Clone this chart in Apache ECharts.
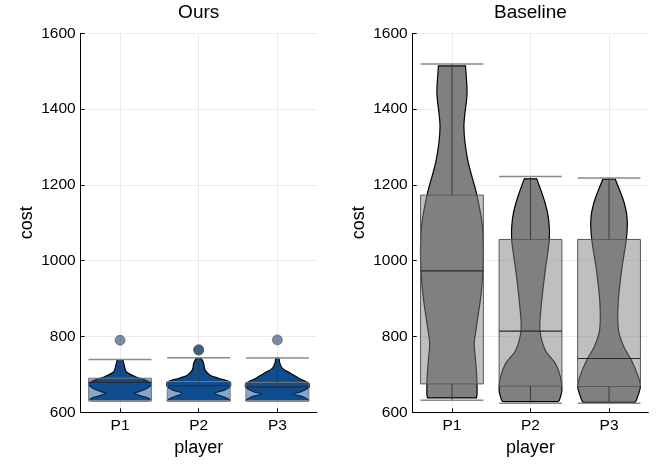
<!DOCTYPE html>
<html>
<head>
<meta charset="utf-8">
<script src="https://cdn.jsdelivr.net/npm/echarts@6/dist/echarts.min.js"></script>
<style>
html,body{margin:0;padding:0;background:#fff;}
#chart{width:664px;height:465px;}
</style>
</head>
<body>
<div id="chart"></div>
<script>
// ---- data ----
const categories = ['P1', 'P2', 'P3'];
const panelTitles = ['Ours', 'Baseline'];

// Ours box statistics
const oursLow    = [630, 630, 630];
const oursQ1     = [631, 631, 631];
const oursMedian = [679, 670, 667];
const oursQ3     = [690, 681, 679];
const oursHigh   = [739, 744, 743];
const oursOutlierCat = [0, 1, 1, 2];
const oursOutlierVal = [790, 764, 765, 791];

// Baseline box statistics
const baseLow    = [632, 624, 624];
const baseQ1     = [675, 669, 668];
const baseMedian = [973, 814, 742];
const baseQ3     = [1173, 1056, 1056];
const baseHigh   = [1519, 1222, 1218];

// Violin density profiles: [cost, relative half-width]
const oursViolinP1 = [[739,0.09],[725,0.13],[707,0.2],[694,0.49],[685,0.8],[674,1.0],[663,0.85],[654,0.59],[650,0.44],[644,0.64],[635,0.95],[630,0.9]];
const oursViolinP2 = [[742.5,0.08],[729,0.16],[712,0.2],[698,0.36],[690,0.62],[679,1.0],[668,1.0],[659,0.83],[650,0.52],[641,0.78],[632,1.0],[630,0.98]];
const oursViolinP3 = [[743,0.05],[729,0.08],[716,0.16],[703,0.42],[690,0.68],[676,1.0],[665,1.0],[654,0.74],[648,0.5],[641,0.82],[632,1.0],[630,0.98]];
const baseViolinP1 = [[1514,0.43],[1442,0.48],[1354,0.38],[1266,0.5],[1178,0.78],[1090,0.97],[1002,1.0],[914,0.93],[826,0.78],[782,0.71],[738,0.75],[694,0.79],[650,0.8],[638,0.78]];
const baseViolinP2 = [[1216,0.2],[1151,0.47],[1107,0.58],[1056,0.6],[975,0.47],[888,0.35],[817,0.3],[764,0.47],[729,0.79],[694,0.95],[659,1.0],[632,0.92],[628,0.87]];
const baseViolinP3 = [[1215,0.2],[1151,0.49],[1107,0.58],[1056,0.55],[975,0.4],[888,0.29],[817,0.3],[773,0.47],[738,0.71],[694,0.93],[668,1.0],[632,0.87],[626,0.82]];

// ---- styling ----
const FONT = 'Liberation Sans, Arial, sans-serif';
const oursColor = '#0f4d8f';
const oursBoxFill = 'rgba(15,77,143,0.5)';
const baseColor = '#808080';
const baseBoxFill = 'rgba(128,128,128,0.5)';
const HALF = 0.4; // half of box width in band units

const oursViolins = [oursViolinP1, oursViolinP2, oursViolinP3];
const baseViolins = [baseViolinP1, baseViolinP2, baseViolinP3];

function violinRenderer(profiles, color) {
  return function (params, api) {
    const idx = api.value(0);
    const prof = profiles[idx];
    const band = api.size([1, 0])[0];
    const right = [], left = [];
    prof.forEach(function (p) {
      const c = api.coord([idx, p[0]]);
      const hw = p[1] * HALF * band;
      right.push([c[0] + hw, c[1]]);
      left.push([c[0] - hw, c[1]]);
    });
    left.reverse();
    // duplicate corner points so the flat top/bottom edges stay straight
    const pts = [right[0]].concat(right, [right[right.length - 1]], [left[0]], left, [left[left.length - 1]]);
    return {
      type: 'polygon',
      shape: { points: pts, smooth: 0.3 },
      style: { fill: color, stroke: '#000', lineWidth: 1.2 }
    };
  };
}

function boxRenderer(fill, edge) {
  return function (params, api) {
    const idx = api.value(0);
    const band = api.size([1, 0])[0];
    const hw = HALF * band;
    const pLow = api.coord([idx, api.value(1)]);
    const pQ1 = api.coord([idx, api.value(2)]);
    const pMed = api.coord([idx, api.value(3)]);
    const pQ3 = api.coord([idx, api.value(4)]);
    const pHigh = api.coord([idx, api.value(5)]);
    const x = pMed[0];
    return {
      type: 'group',
      children: [
        { type: 'rect', shape: { x: x - hw, y: pQ3[1], width: 2 * hw, height: pQ1[1] - pQ3[1] },
          style: { fill: fill, stroke: edge, lineWidth: 1 } },
        { type: 'line', shape: { x1: x - hw, y1: pMed[1], x2: x + hw, y2: pMed[1] },
          style: { stroke: '#2a2a2a', lineWidth: 1.2 } },
        { type: 'line', shape: { x1: x, y1: pQ3[1], x2: x, y2: pHigh[1] },
          style: { stroke: '#3a3a3a', lineWidth: 1 } },
        { type: 'line', shape: { x1: x, y1: pQ1[1], x2: x, y2: pLow[1] },
          style: { stroke: '#3a3a3a', lineWidth: 1 } },
        { type: 'line', shape: { x1: x - hw, y1: pHigh[1], x2: x + hw, y2: pHigh[1] },
          style: { stroke: '#8a8a8a', lineWidth: 1.5 } },
        { type: 'line', shape: { x1: x - hw, y1: pLow[1], x2: x + hw, y2: pLow[1] },
          style: { stroke: '#8a8a8a', lineWidth: 1.5 } }
      ]
    };
  };
}

function boxRows(low, q1, med, q3, high) {
  return categories.map(function (c, i) { return [i, low[i], q1[i], med[i], q3[i], high[i]]; });
}

const grids = [
  { left: 80.7, top: 33.3, width: 236, height: 379 },
  { left: 412.7, top: 33.3, width: 235.6, height: 379 }
];

function xAxisCfg(gi) {
  return {
    type: 'category', gridIndex: gi, data: categories,
    name: 'player', nameLocation: 'middle', nameGap: 27,
    nameTextStyle: { fontFamily: FONT, fontSize: 18, color: '#000' },
    axisLine: { show: true, lineStyle: { color: '#000', width: 1 } },
    axisTick: { show: true, inside: true, alignWithLabel: true, length: 4, lineStyle: { color: '#000' } },
    axisLabel: { fontFamily: FONT, fontSize: 15.5, color: '#000', margin: 5 },
    splitLine: { show: true, alignWithLabel: true, lineStyle: { color: '#ebebeb', width: 1 } }
  };
}
function yAxisCfg(gi) {
  return {
    type: 'value', gridIndex: gi, min: 600, max: 1600, interval: 200,
    name: 'cost', nameLocation: 'middle', nameGap: 45,
    nameTextStyle: { fontFamily: FONT, fontSize: 18, color: '#000' },
    axisLine: { show: true, lineStyle: { color: '#000', width: 1 } },
    axisTick: { show: true, inside: true, length: 4, lineStyle: { color: '#000' } },
    axisLabel: { fontFamily: FONT, fontSize: 15.5, color: '#000', margin: 5,
      formatter: function (v) { return String(v); } },
    splitLine: { show: true, lineStyle: { color: '#ebebeb', width: 1 } }
  };
}

const chart = echarts.init(document.getElementById('chart'), null, { renderer: 'canvas' });
chart.setOption({
  animation: false,
  backgroundColor: '#fff',
  grid: grids,
  xAxis: [xAxisCfg(0), xAxisCfg(1)],
  yAxis: [yAxisCfg(0), yAxisCfg(1)],
  graphic: [
    { type: 'text', x: 198.7, y: 13, style: { text: panelTitles[0], align: 'center', verticalAlign: 'middle', font: '19px ' + FONT, fill: '#000' } },
    { type: 'text', x: 530.5, y: 13, style: { text: panelTitles[1], align: 'center', verticalAlign: 'middle', font: '19px ' + FONT, fill: '#000' } }
  ],
  series: [
    { type: 'custom', xAxisIndex: 0, yAxisIndex: 0, renderItem: violinRenderer(oursViolins, oursColor),
      data: categories.map(function (c, i) { return [i, oursMedian[i]]; }), z: 2 },
    { type: 'custom', xAxisIndex: 0, yAxisIndex: 0, renderItem: boxRenderer(oursBoxFill, '#7a7a7a'),
      data: boxRows(oursLow, oursQ1, oursMedian, oursQ3, oursHigh), z: 3 },
    { type: 'scatter', xAxisIndex: 0, yAxisIndex: 0, symbolSize: 10,
      itemStyle: { color: 'rgba(30,65,110,0.75)', borderColor: 'rgba(90,90,90,0.8)', borderWidth: 1 },
      data: oursOutlierCat.map(function (c, i) { return [c, oursOutlierVal[i]]; }), z: 4 },
    { type: 'custom', xAxisIndex: 1, yAxisIndex: 1, renderItem: violinRenderer(baseViolins, baseColor),
      data: categories.map(function (c, i) { return [i, baseMedian[i]]; }), z: 2 },
    { type: 'custom', xAxisIndex: 1, yAxisIndex: 1, renderItem: boxRenderer(baseBoxFill, '#5a5a5a'),
      data: boxRows(baseLow, baseQ1, baseMedian, baseQ3, baseHigh), z: 3 }
  ]
});
</script>
</body>
</html>
